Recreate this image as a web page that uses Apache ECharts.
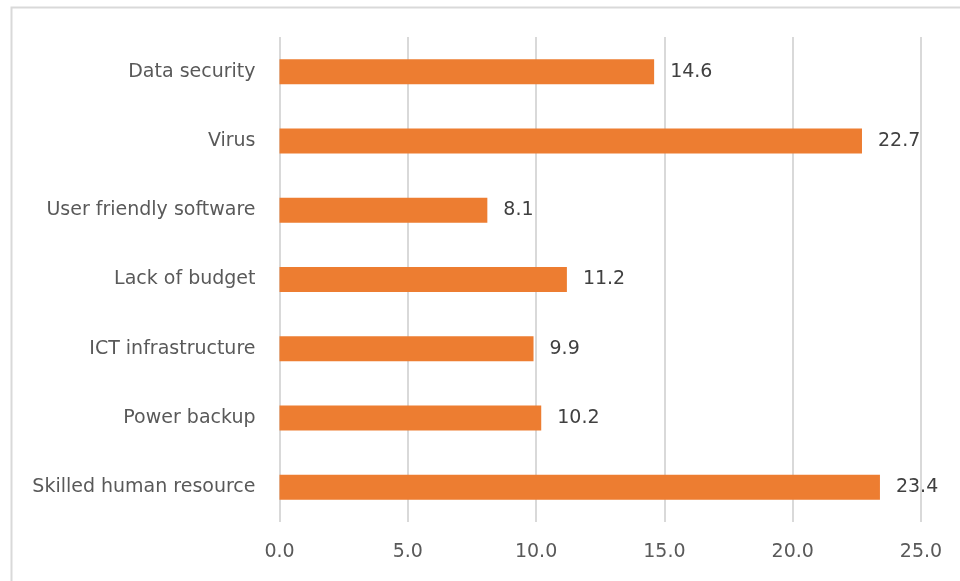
<!DOCTYPE html>
<html>
<head>
<meta charset="utf-8">
<script src="https://cdn.jsdelivr.net/npm/echarts@6/dist/echarts.min.js"></script>
<style>html,body{margin:0;padding:0;background:#fff;}#c{width:960px;height:581px;}</style>
</head>
<body>
<div id="c"></div>
<script>
const categories = ["Skilled human resource", "Power backup", "ICT infrastructure", "Lack of budget", "User friendly software", "Virus", "Data security"];
const values = [23.4, 10.2, 9.9, 11.2, 8.1, 22.7, 14.6];
const xTicks = [0, 5, 10, 15, 20, 25];

const chart = echarts.init(document.getElementById('c'));
const font = 'DejaVu Sans';
chart.setOption({
  animation: false,
  graphic: [{
    type: 'rect', shape: {x: 11.5, y: 7.5, width: 1000, height: 700},
    style: {fill: 'none', stroke: '#d9d9d9', lineWidth: 2}
  }],
  grid: {left: 279.5, right: 39, top: 37, bottom: 59, containLabel: false},
  xAxis: {
    type: 'value', min: xTicks[0], max: xTicks[xTicks.length - 1], interval: 5,
    axisLine: {show: false}, axisTick: {show: false},
    splitLine: {lineStyle: {color: '#d9d9d9', width: 2}},
    axisLabel: {color: '#595959', fontSize: 19, fontFamily: font, margin: 21,
      formatter: v => v.toFixed(1)}
  },
  yAxis: {
    type: 'category', data: categories,
    axisLine: {show: false}, axisTick: {show: false},
    axisLabel: {color: '#595959', fontSize: 19, fontFamily: font, margin: 24}
  },
  series: [{
    type: 'bar', data: values, barWidth: 25,
    itemStyle: {color: '#ED7D31'},
    label: {show: true, position: 'right', distance: 16, color: '#404040', fontSize: 19, fontFamily: font,
      formatter: p => p.value.toFixed(1)}
  }]
});
</script>
</body>
</html>
